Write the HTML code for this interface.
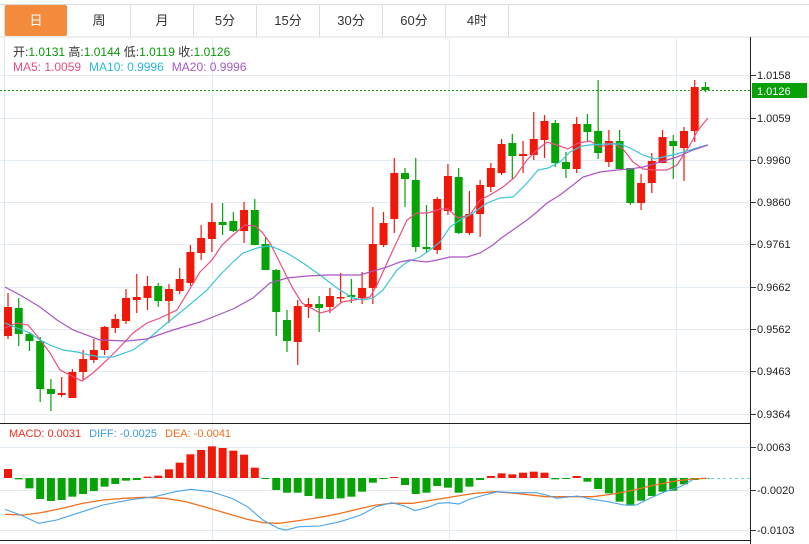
<!DOCTYPE html>
<html><head><meta charset="utf-8"><style>
body{margin:0;background:#fff;width:809px;height:544px;overflow:hidden;font-family:"Liberation Sans","Noto Sans CJK SC",sans-serif}
svg{display:block}
</style></head><body>
<svg id="s" width="809" height="544" xmlns="http://www.w3.org/2000/svg" font-family="Liberation Sans, Noto Sans CJK SC, sans-serif">
<rect x="0" y="0" width="809" height="544" fill="#fff"/>
<line x1="0" y1="4.5" x2="809" y2="4.5" stroke="#ddd"/>
<line x1="0" y1="37" x2="809" y2="37" stroke="#ddd"/>
<line x1="4.5" y1="4" x2="4.5" y2="37" stroke="#ddd"/>
<rect x="5" y="5" width="62" height="31" rx="2" fill="#F28B3C"/>
<g stroke="#ddd"><line x1="130.5" y1="5" x2="130.5" y2="37"/><line x1="193.5" y1="5" x2="193.5" y2="37"/><line x1="256.5" y1="5" x2="256.5" y2="37"/><line x1="319.5" y1="5" x2="319.5" y2="37"/><line x1="382.5" y1="5" x2="382.5" y2="37"/><line x1="445.5" y1="5" x2="445.5" y2="37"/><line x1="508.5" y1="5" x2="508.5" y2="37"/></g>
<g font-size="13" text-anchor="middle" fill="#333"><text x="36" y="25" fill="#fff">日</text><text x="99" y="25">周</text><text x="162" y="25">月</text><text x="225" y="25">5分</text><text x="288" y="25">15分</text><text x="351" y="25">30分</text><text x="414" y="25">60分</text><text x="477" y="25">4时</text></g>
<g stroke="#e4ecf3" stroke-width="1">
<line x1="0" y1="75.5" x2="750" y2="75.5"/><line x1="0" y1="118.5" x2="750" y2="118.5"/><line x1="0" y1="160.5" x2="750" y2="160.5"/><line x1="0" y1="202.5" x2="750" y2="202.5"/><line x1="0" y1="244.5" x2="750" y2="244.5"/><line x1="0" y1="287.5" x2="750" y2="287.5"/><line x1="0" y1="329.5" x2="750" y2="329.5"/><line x1="0" y1="371.5" x2="750" y2="371.5"/><line x1="0" y1="414.5" x2="750" y2="414.5"/>
<line x1="212.5" y1="38" x2="212.5" y2="540"/><line x1="449.5" y1="38" x2="449.5" y2="540"/><line x1="676.5" y1="38" x2="676.5" y2="540"/>
<line x1="0" y1="447.5" x2="750" y2="447.5"/><line x1="0" y1="490.5" x2="750" y2="490.5"/><line x1="0" y1="530.5" x2="750" y2="530.5"/>
</g>
<line x1="4.5" y1="38" x2="4.5" y2="423" stroke="#dde5ec"/>
<line x1="0" y1="423.5" x2="750" y2="423.5" stroke="#222"/>
<line x1="0" y1="540.5" x2="750" y2="540.5" stroke="#222"/>
<line x1="750.5" y1="37" x2="750.5" y2="544" stroke="#222"/>
<g id="ticks" stroke="#333"></g>
<g font-size="11" fill="#222" id="lbl"></g>
<line x1="0" y1="90.5" x2="750" y2="90.5" stroke="#1aa01a" stroke-dasharray="2,2"/>
<rect x="752" y="83" width="55" height="15" fill="#0aa00a"/>
<text x="757" y="95" font-size="11" fill="#fff">1.0126</text>
<g id="c"></g>
<g id="m"></g>
<text x="13" y="56" font-size="12" fill="#333">开:<tspan fill="#0a9a0a">1.0131</tspan>  高:<tspan fill="#0a9a0a">1.0144</tspan>  低:<tspan fill="#0a9a0a">1.0119</tspan>  收:<tspan fill="#0a9a0a">1.0126</tspan></text>
<text x="13" y="71" font-size="12"><tspan fill="#e8507a">MA5: 1.0059</tspan><tspan fill="#2ab8d6" dx="8">MA10: 0.9996</tspan><tspan fill="#a55ac0" dx="8">MA20: 0.9996</tspan></text>
<text x="9" y="437" font-size="11"><tspan fill="#e83020">MACD: 0.0031</tspan><tspan fill="#3b9be8" dx="8">DIFF: -0.0025</tspan><tspan fill="#f07020" dx="8">DEA: -0.0041</tspan></text>
</svg>
<script>
(function(){
var NS="http://www.w3.org/2000/svg";
function el(p,t,a){var e=document.createElementNS(NS,t);for(var k in a)e.setAttribute(k,a[k]);p.appendChild(e);return e;}
var lbl=document.getElementById('lbl'),tk=document.getElementById('ticks');
[[75,"1.0158"],[118,"1.0059"],[160,"0.9960"],[202,"0.9860"],[244,"0.9761"],[287,"0.9662"],[329,"0.9562"],[371,"0.9463"],[414,"0.9364"],[447,"0.0063"],[490,"-0.0020"],[530,"-0.0103"]].forEach(function(l){
el(tk,'line',{x1:751,x2:756,y1:l[0]+.5,y2:l[0]+.5});var t=el(lbl,'text',{x:757,y:l[0]+4});t.textContent=l[1];});
var C=[[307,336,293,339,1],[308,334,298,346,0],[334,341,332,351,0],[341,389,337,402,0],[389,394,379,411,0],[393,395,377,397,1],[372,398,369,398,1],[359,372,350,380,1],[350,360,339,363,1],[327,350,326,355,1],[319,328,314,333,1],[298,321,289,324,1],[297,300,274,313,1],[286,298,276,310,1],[286,301,283,307,0],[289,301,284,323,1],[279,291,268,294,1],[252,283,245,286,1],[238,253,225,260,1],[222,239,203,252,1],[222,225,203,235,0],[221,231,212,232,0],[210,231,202,243,1],[210,245,199,245,0],[244,270,237,270,0],[270,312,269,336,0],[320,341,310,352,0],[306,342,300,365,1],[304,307,298,318,1],[304,308,296,332,0],[296,307,288,313,1],[297,298,273,302,1],[295,297,279,303,0],[288,298,272,304,1],[244,288,207,304,1],[223,245,212,247,1],[173,219,158,233,1],[173,179,168,207,0],[180,247,158,252,0],[247,249,205,253,0],[199,250,197,254,1],[176,211,164,215,1],[177,233,168,234,0],[214,233,191,235,1],[185,214,180,237,1],[168,187,163,192,1],[144,173,139,175,1],[143,156,134,179,0],[154,156,141,173,1],[139,155,112,160,1],[121,140,115,158,1],[123,163,120,167,0],[162,169,152,178,0],[124,169,117,173,1],[124,132,114,142,0],[131,153,80,159,0],[141,162,130,167,1],[141,169,130,169,0],[168,203,168,205,0],[183,203,174,210,1],[161,183,153,193,1],[137,163,130,163,1],[141,146,135,179,0],[131,148,127,181,1],[87,131,80,142,1],[87,90,82,92,0]];
var g=document.getElementById('c');
function X(i){return 8+10.73*i;}
C.forEach(function(c,i){var x=X(i),col=c[4]?'#f01808':'#05a305';
el(g,'line',{x1:x,x2:x,y1:c[2],y2:c[3],stroke:col,'stroke-width':1.2});
el(g,'rect',{x:x-4,y:c[0],width:8,height:Math.max(1.5,c[1]-c[0]),fill:col});});
var m=document.getElementById('m');
function pl(pts,col,w){el(m,'polyline',{points:pts.map(function(p){return p.join(',')}).join(' '),fill:'none',stroke:col,'stroke-width':w||1});}
pl([[5,328],[17,323],[28,325],[38,337],[50,353],[60,370],[82,381],[93,373],[107,360],[120,347],[133,333],[147,323],[160,318],[177,310],[200,272],[212,260],[222,245],[233,235],[245,225],[255,226],[262,232],[270,243],[280,263],[292,287],[302,303],[320,313],[332,310],[342,302],[360,299],[370,297],[377,285],[393,250],[407,220],[417,213],[428,213],[440,209],[448,209],[458,218],[470,215],[480,200],[490,195],[503,187],[515,177],[527,160],[537,150],[547,142],[557,145],[568,149],[578,143],[590,141],[600,147],[613,143],[623,149],[633,162],[643,169],[655,170],[667,170],[677,165],[690,145],[698,130],[708,118]],'#ec4d7e',1.2);
pl([[5,323],[17,328],[30,333],[40,340],[50,345],[63,350],[77,352],[90,355],[100,357],[113,357],[133,350],[147,340],[167,323],[187,307],[207,290],[220,275],[233,262],[243,253],[257,248],[268,246],[273,247],[287,253],[303,263],[320,275],[337,288],[353,298],[363,300],[373,298],[383,290],[397,270],[407,262],[420,257],[430,250],[440,242],[450,227],[460,220],[473,213],[487,203],[500,198],[513,197],[527,183],[538,170],[548,168],[560,162],[570,152],[582,146],[590,145],[605,144],[620,144],[630,148],[643,155],[655,159],[667,156],[677,154],[690,150],[707,145]],'#3cc4dc',1.2);
pl([[5,287],[20,295],[40,307],[57,320],[73,330],[100,340],[127,341],[147,339],[173,330],[200,322],[213,317],[233,309],[253,298],[262,290],[270,283],[287,278],[307,276],[327,275],[360,275],[370,272],[387,267],[400,262],[410,260],[427,262],[437,260],[450,257],[467,257],[480,253],[493,245],[500,239],[527,220],[537,212],[547,203],[560,195],[573,185],[583,177],[600,172],[617,170],[630,169],[643,167],[660,162],[677,157],[693,150],[708,145]],'#aa55c4',1.2);
var Z=478,H={0:147,1:178,2:205,3:237,4:243,5:240,6:230,7:222,8:213,9:200,10:192,11:182,12:180,13:170,14:167,15:148,16:128,17:103,18:90,19:79,20:84,21:92,22:104,23:143,24:177,25:210,26:218,27:218,28:228,29:236,30:237,31:235,32:230,33:215,34:188,35:176,36:171,37:195,38:222,39:218,40:198,41:203,42:218,43:200,44:180,45:168,46:160,47:163,48:158,49:155,50:158,51:178,52:176,53:168,54:185,55:207,56:220,57:245,58:257,59:242,60:228,61:215,62:212,63:193,64:180,65:176};
for(var i=0;i<66;i++){var yy=420+H[i]/3,x=X(i);var ty=Math.min(yy,Z),h=Math.abs(yy-Z);if(h<1)h=1;el(m,'rect',{x:x-4,y:ty,width:8,height:h,fill:yy<Z?'#f01808':'#05a305'});}
el(m,'line',{x1:705,x2:750,y1:478.5,y2:478.5,stroke:'#6ccdf0','stroke-dasharray':'3,3'});
function cv(a){return a.map(function(p){return [p[0]/1.94,420+p[1]/3];});}
pl(cv([[10,283],[45,285],[80,278],[120,265],[160,250],[200,240],[240,235],[280,232],[320,235],[360,245],[400,262],[440,280],[480,298],[510,308],[540,310],[580,302],[620,292],[660,280],[700,265],[730,255],[760,250],[800,250],[840,240],[880,230],[920,220],[960,215],[1000,220],[1060,230],[1100,230],[1150,230],[1190,222],[1230,210],[1270,195],[1310,183],[1345,177],[1370,175]]),'#f07020',1.3);
pl(cv([[10,268],[40,285],[75,310],[110,300],[150,280],[200,255],[250,240],[300,230],[340,215],[370,208],[410,215],[450,235],[480,260],[510,300],[540,325],[555,330],[580,320],[620,318],[660,305],[700,285],[730,260],[760,248],[785,258],[805,272],[830,262],[850,250],[870,248],[890,252],[910,238],[940,225],[965,215],[1000,218],[1040,218],[1060,225],[1080,235],[1120,228],[1150,238],[1180,245],[1210,255],[1235,255],[1260,235],[1290,215],[1320,200],[1345,178]]),'#4aa3ea',1.1);
})();
</script>
</body></html>
